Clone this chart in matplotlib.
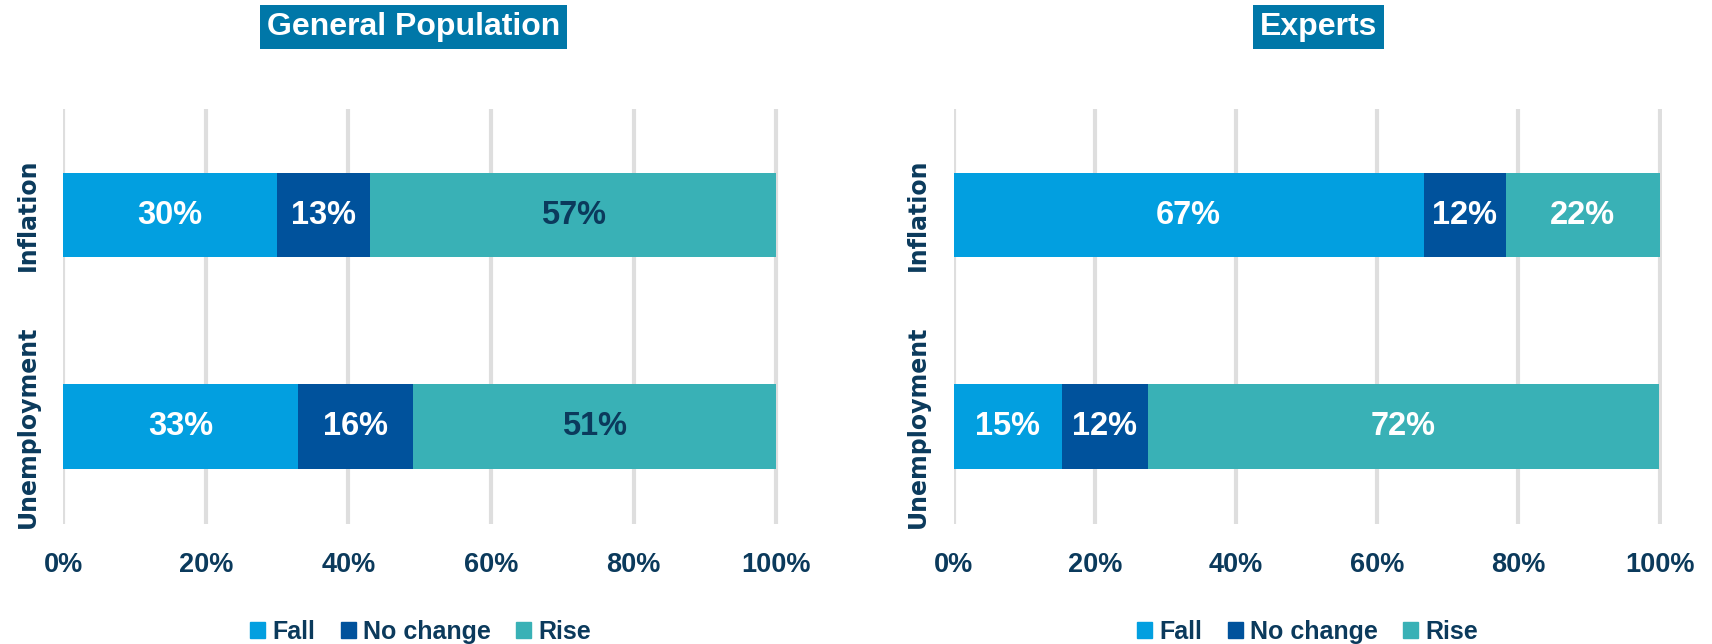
import numpy as np
import matplotlib
matplotlib.use('Agg')
from matplotlib import pyplot as plt
from matplotlib.patches import Patch

categories = ['Inflation', 'Unemployment']
series = ['Fall', 'No change', 'Rise']
panels = ['General Population', 'Experts']

# values in %, per panel: rows = categories, cols = series
gen_fall = [30, 33]
gen_nochange = [13, 16]
gen_rise = [57, 51]
exp_fall = [66.6, 15.3]
exp_nochange = [11.6, 12.2]
exp_rise = [21.8, 72.4]

ticks = [0, 20, 40, 60, 80, 100]
tick_labels = ['0%', '20%', '40%', '60%', '80%', '100%']

colors = ['#029fe0', '#00529c', '#39b1b6']
navy = '#0b3a5c'
title_bg = '#0077a8'
narrow = ['Liberation Sans', 'DejaVu Sans']

data = [
    [gen_fall, gen_nochange, gen_rise],
    [exp_fall, exp_nochange, exp_rise],
]
# label colours per panel and series
label_colors = [
    ['white', 'white', navy],
    ['white', 'white', 'white'],
]

fig = plt.figure(figsize=(17.12, 6.44), dpi=100)
axes = [fig.add_axes([0.0368, 0.1863, 0.418, 0.644]),
        fig.add_axes([0.557, 0.1863, 0.4136, 0.644])]
title_x = [0.2414, 0.770]

y = np.arange(len(categories))
for p, ax in enumerate(axes):
    left = np.zeros(len(categories))
    for s, name in enumerate(series):
        vals = np.array(data[p][s], dtype=float)
        bars = ax.barh(y, vals, left=left, height=0.40, color=colors[s],
                       label=name, zorder=3)
        for b, v in zip(bars, vals):
            ax.text(b.get_x() + b.get_width() / 2, b.get_y() + b.get_height() / 2,
                    f'{v:.0f}%', ha='center', va='center', fontsize=23.5,
                    fontweight='bold', color=label_colors[p][s], family=narrow,
                    zorder=4)
        left += vals

    ax.set_xlim(0, 100.3)
    ax.set_ylim(1.46, -0.5)
    ax.set_xticks(ticks)
    ax.set_xticklabels(tick_labels, fontsize=19.5, fontweight='bold', color=navy,
                       family=narrow)
    ax.set_yticks(y)
    ax.set_yticklabels(categories, rotation=90, va='center', fontsize=17,
                       fontweight='bold', color=navy)
    ax.tick_params(axis='both', length=0)
    ax.tick_params(axis='x', pad=20)
    ax.tick_params(axis='y', pad=17)
    ax.grid(axis='x', color='#dedede', linewidth=3, zorder=0)
    for sp in ax.spines.values():
        sp.set_visible(False)

    handles = [Patch(color=c, label=n) for c, n in zip(colors, series)]
    ax.legend(handles=handles, loc='center', bbox_to_anchor=(0.5, -0.26), ncol=3,
              frameon=False, handlelength=0.6, handleheight=0.6, handletextpad=0.3,
              columnspacing=1.0, prop={'family': narrow, 'weight': 'bold', 'size': 18},
              labelcolor=navy)

    fig.text(title_x[p], 0.958, panels[p], ha='center', va='center', fontsize=23,
             fontweight='bold', color='white', family=narrow,
             bbox=dict(facecolor=title_bg, edgecolor='none', pad=5))

fig.savefig('out.png', dpi=100)
